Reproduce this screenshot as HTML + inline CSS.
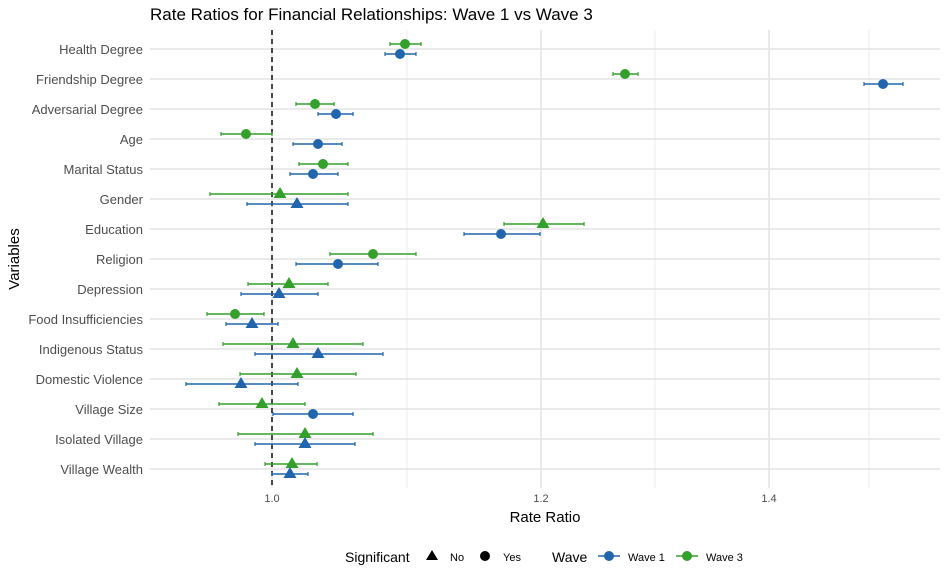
<!DOCTYPE html>
<html><head><meta charset="utf-8"><style>
body{margin:0;background:#fff;}
svg{display:block;font-family:"Liberation Sans",Arial,sans-serif;}
</style></head><body>
<svg id="s" width="946" height="582" xmlns="http://www.w3.org/2000/svg">
<rect width="946" height="582" fill="#fff"/>
<g stroke="#ebebeb" stroke-width="1">
<line x1="407" y1="30" x2="407" y2="488"/><line x1="655" y1="30" x2="655" y2="488"/><line x1="869" y1="30" x2="869" y2="488"/>
</g>
<g stroke="#e4e4e4" stroke-width="1.6" id="maj">
<line x1="272" y1="30" x2="272" y2="488"/><line x1="541" y1="30" x2="541" y2="488"/><line x1="769" y1="30" x2="769" y2="488"/>
</g>
<line x1="272" y1="30" x2="272" y2="488" stroke="#111" stroke-width="1.5" stroke-dasharray="5,4"/>
<g id="marks"></g>
<text x="150" y="20" font-size="17" fill="#000">Rate Ratios for Financial Relationships: Wave 1 vs Wave 3</text>
<g font-size="13" fill="#4d4d4d" text-anchor="end">
<text x="143" y="54">Health Degree</text>
<text x="143" y="84">Friendship Degree</text>
<text x="143" y="114">Adversarial Degree</text>
<text x="143" y="144">Age</text>
<text x="143" y="174">Marital Status</text>
<text x="143" y="204">Gender</text>
<text x="143" y="234">Education</text>
<text x="143" y="264">Religion</text>
<text x="143" y="294">Depression</text>
<text x="143" y="324">Food Insufficiencies</text>
<text x="143" y="354">Indigenous Status</text>
<text x="143" y="384">Domestic Violence</text>
<text x="143" y="414">Village Size</text>
<text x="143" y="444">Isolated Village</text>
<text x="143" y="474">Village Wealth</text>
</g>
<g font-size="11" fill="#4d4d4d" text-anchor="middle">
<text x="272" y="502">1.0</text><text x="541" y="502">1.2</text><text x="769" y="502">1.4</text>
</g>
<text x="545" y="522" font-size="15" text-anchor="middle" fill="#000">Rate Ratio</text>
<text x="19" y="259" font-size="15" text-anchor="middle" fill="#000" transform="rotate(-90 19 259)">Variables</text>
<g font-size="14" fill="#000">
<text x="345" y="562">Significant</text>
<text x="552" y="562">Wave</text>
</g>
<g font-size="11" fill="#000">
<text x="450" y="561">No</text>
<text x="503" y="561">Yes</text>
<text x="628" y="561">Wave 1</text>
<text x="706" y="561">Wave 3</text>
</g>
<polygon points="432,550 426,560 438,560" fill="#000"/>
<circle cx="485" cy="556" r="5" fill="#000"/>
<line x1="598" y1="556" x2="620" y2="556" stroke="#2166ac" stroke-width="1.5"/><circle cx="609" cy="556" r="5" fill="#2166ac"/>
<line x1="676" y1="556" x2="698" y2="556" stroke="#33a02c" stroke-width="1.5"/><circle cx="687" cy="556" r="5" fill="#33a02c"/>
</svg>
<script>
var B="#2166ac",G="#33a02c";
// [row, x, lo, hi, shape(c/t)] for wave3 then wave1
var d=[
[[405,390,421,'c'],[400,385,416,'c']],
[[625,613,638,'c'],[883,864,903,'c']],
[[315,296,334,'c'],[336,318,353,'c']],
[[246,221,272,'c'],[318,293,342,'c']],
[[323,299,348,'c'],[313,290,338,'c']],
[[280,210,348,'t'],[297,247,348,'t']],
[[543,504,584,'t'],[501,464,540,'c']],
[[373,330,416,'c'],[338,296,378,'c']],
[[289,248,328,'t'],[279,241,318,'t']],
[[235,207,264,'c'],[252,226,278,'t']],
[[293,223,363,'t'],[318,255,383,'t']],
[[297,240,356,'t'],[241,186,298,'t']],
[[262,219,305,'t'],[313,273,353,'c']],
[[305,238,373,'t'],[305,255,355,'t']],
[[292,265,317,'t'],[290,272,308,'t']]];
var h="",g="";
d.forEach(function(r,i){var y=49+30*i;
 g+='<line x1="150" y1="'+y+'" x2="940" y2="'+y+'" stroke="#e4e4e4" stroke-width="1.6"/>';
 [[r[0],y-5,G],[r[1],y+5,B]].forEach(function(p){var v=p[0],yy=p[1],c=p[2];
  h+='<line x1="'+v[1]+'" y1="'+yy+'" x2="'+v[2]+'" y2="'+yy+'" stroke="'+c+'" stroke-width="1.5"/>';
  h+='<line x1="'+v[1]+'" y1="'+(yy-2)+'" x2="'+v[1]+'" y2="'+(yy+2)+'" stroke="'+c+'" stroke-width="1.2"/>';
  h+='<line x1="'+v[2]+'" y1="'+(yy-2)+'" x2="'+v[2]+'" y2="'+(yy+2)+'" stroke="'+c+'" stroke-width="1.2"/>';
  if(v[3]=='c')h+='<circle cx="'+v[0]+'" cy="'+yy+'" r="5" fill="'+c+'"/>';
  else h+='<polygon points="'+v[0]+','+(yy-7)+' '+(v[0]-6.5)+','+(yy+4)+' '+(v[0]+6.5)+','+(yy+4)+'" fill="'+c+'"/>';
 });});
document.getElementById('maj').insertAdjacentHTML('beforeend',g);
document.getElementById('marks').innerHTML=h;
</script>
</body></html>
